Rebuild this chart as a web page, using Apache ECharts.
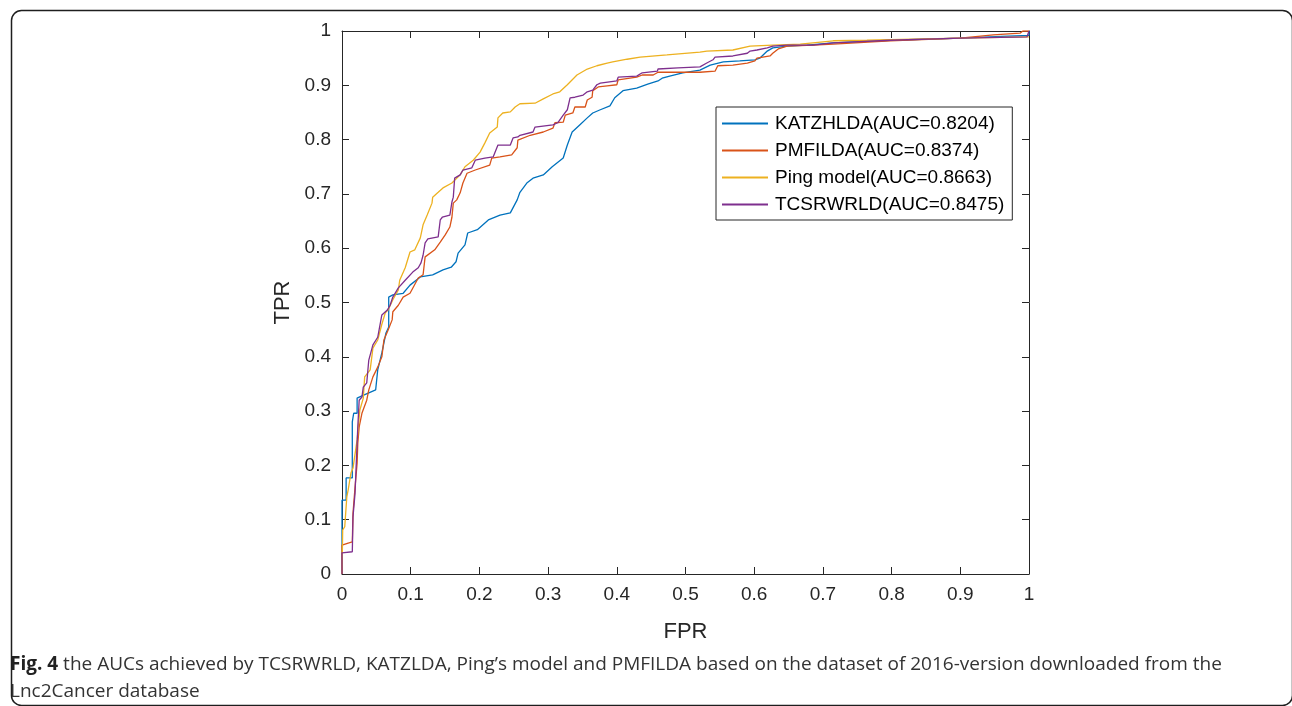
<!DOCTYPE html>
<html>
<head>
<meta charset="utf-8">
<script src="https://cdn.jsdelivr.net/npm/echarts@6/dist/echarts.min.js"></script>
<style>
html,body{margin:0;padding:0;background:#fff;}
#chart{width:1292px;height:706px;}
</style>
</head>
<body>
<div id="chart"></div>
<script>
// ---- Data ----
const seriesNames = ['KATZHLDA(AUC=0.8204)', 'PMFILDA(AUC=0.8374)', 'Ping model(AUC=0.8663)', 'TCSRWRLD(AUC=0.8475)'];
const xTicks = [0, 0.1, 0.2, 0.3, 0.4, 0.5, 0.6, 0.7, 0.8, 0.9, 1];
const yTicks = [0, 0.1, 0.2, 0.3, 0.4, 0.5, 0.6, 0.7, 0.8, 0.9, 1];

const katzFpr = [0,0,0.006,0.006,0.015,0.015,0.017,0.017,0.022,0.022,0.029,0.049,0.052,0.058,0.064,0.068,0.068,0.074,0.089,0.099,0.114,0.132,0.147,0.159,0.166,0.169,0.179,0.183,0.197,0.213,0.230,0.245,0.255,0.259,0.269,0.278,0.293,0.306,0.322,0.328,0.335,0.346,0.357,0.365,0.376,0.390,0.397,0.409,0.429,0.445,0.460,0.466,0.477,0.496,0.521,0.536,0.555,0.579,0.601,0.608,0.619,0.627,0.648,0.677,0.715,0.798,0.900,0.960,1.0,1.0];
const katzTpr = [0,0.136,0.136,0.177,0.177,0.280,0.280,0.296,0.296,0.324,0.328,0.339,0.376,0.407,0.444,0.455,0.510,0.514,0.517,0.532,0.547,0.551,0.560,0.565,0.575,0.591,0.606,0.628,0.634,0.652,0.661,0.665,0.689,0.703,0.720,0.729,0.735,0.750,0.766,0.790,0.814,0.827,0.840,0.849,0.855,0.862,0.877,0.890,0.895,0.902,0.908,0.913,0.917,0.923,0.928,0.937,0.943,0.945,0.947,0.950,0.963,0.969,0.972,0.974,0.978,0.983,0.987,0.990,0.992,1.0];

const pmfFpr = [0,0,0.009,0.015,0.016,0.019,0.022,0.023,0.025,0.029,0.036,0.039,0.045,0.052,0.058,0.061,0.067,0.073,0.074,0.082,0.089,0.099,0.111,0.118,0.121,0.135,0.143,0.150,0.157,0.160,0.162,0.167,0.172,0.176,0.182,0.194,0.215,0.218,0.230,0.247,0.255,0.256,0.274,0.293,0.307,0.310,0.322,0.325,0.336,0.339,0.354,0.357,0.364,0.365,0.373,0.386,0.400,0.402,0.429,0.437,0.453,0.460,0.521,0.543,0.547,0.569,0.590,0.601,0.604,0.623,0.627,0.635,0.648,0.686,0.715,0.798,0.900,0.948,0.987,0.991,1.0];
const pmfTpr = [0,0.053,0.057,0.059,0.112,0.160,0.204,0.241,0.271,0.296,0.320,0.339,0.363,0.381,0.400,0.431,0.449,0.468,0.483,0.495,0.510,0.517,0.545,0.551,0.584,0.597,0.611,0.624,0.639,0.657,0.683,0.689,0.702,0.720,0.738,0.744,0.753,0.766,0.768,0.772,0.785,0.799,0.808,0.814,0.821,0.831,0.832,0.845,0.849,0.860,0.860,0.873,0.878,0.890,0.897,0.899,0.901,0.910,0.915,0.919,0.919,0.924,0.924,0.926,0.936,0.937,0.941,0.945,0.950,0.954,0.959,0.967,0.972,0.974,0.976,0.982,0.987,0.993,0.996,1.0,1.0];

const pingFpr = [0,0.001,0.004,0.007,0.009,0.013,0.016,0.022,0.023,0.026,0.031,0.033,0.041,0.045,0.052,0.058,0.063,0.067,0.074,0.082,0.084,0.092,0.099,0.106,0.114,0.118,0.124,0.131,0.132,0.140,0.147,0.160,0.172,0.179,0.191,0.201,0.208,0.215,0.226,0.227,0.234,0.245,0.252,0.259,0.281,0.293,0.307,0.317,0.328,0.342,0.357,0.371,0.386,0.394,0.415,0.434,0.473,0.521,0.531,0.569,0.594,0.627,0.667,0.715,0.764,0.900,1.0];
const pingTpr = [0,0.081,0.087,0.142,0.155,0.186,0.195,0.247,0.260,0.302,0.324,0.363,0.376,0.416,0.431,0.460,0.481,0.486,0.505,0.523,0.541,0.564,0.593,0.597,0.619,0.643,0.661,0.683,0.694,0.703,0.711,0.720,0.735,0.750,0.762,0.777,0.794,0.812,0.823,0.840,0.849,0.851,0.860,0.866,0.867,0.875,0.884,0.888,0.901,0.919,0.930,0.936,0.941,0.943,0.948,0.952,0.956,0.961,0.963,0.965,0.972,0.974,0.976,0.982,0.983,0.987,0.989];

const tcsFpr = [0,0,0.015,0.016,0.019,0.022,0.023,0.025,0.029,0.031,0.036,0.039,0.045,0.052,0.058,0.066,0.070,0.074,0.082,0.092,0.103,0.111,0.115,0.118,0.121,0.125,0.140,0.143,0.146,0.157,0.160,0.162,0.164,0.172,0.176,0.189,0.194,0.208,0.220,0.227,0.245,0.249,0.256,0.259,0.278,0.281,0.307,0.314,0.322,0.328,0.332,0.339,0.351,0.357,0.365,0.371,0.376,0.400,0.402,0.429,0.437,0.459,0.460,0.489,0.521,0.531,0.540,0.543,0.569,0.590,0.594,0.604,0.619,0.627,0.648,0.686,0.715,0.798,0.900,0.997,1.0];
const tcsTpr = [0,0.039,0.041,0.105,0.149,0.241,0.271,0.320,0.326,0.344,0.352,0.394,0.422,0.436,0.477,0.486,0.495,0.510,0.527,0.541,0.556,0.564,0.573,0.587,0.610,0.617,0.621,0.652,0.657,0.661,0.685,0.694,0.729,0.735,0.744,0.748,0.762,0.766,0.768,0.790,0.790,0.803,0.805,0.808,0.814,0.823,0.827,0.831,0.845,0.855,0.877,0.878,0.882,0.888,0.891,0.901,0.904,0.908,0.915,0.917,0.923,0.926,0.930,0.932,0.934,0.941,0.947,0.952,0.954,0.959,0.963,0.965,0.969,0.972,0.974,0.974,0.978,0.983,0.987,0.989,1.0];

const colors = ['#0072BD', '#D95319', '#EDB120', '#7E2F8E'];

function pairs(xs, ys) { return xs.map((x, i) => [x, ys[i]]); }
const allData = [pairs(katzFpr, katzTpr), pairs(pmfFpr, pmfTpr), pairs(pingFpr, pingTpr), pairs(tcsFpr, tcsTpr)];

const FONT = '"Liberation Sans", Arial, Helvetica, sans-serif';
const AX = '#262626';

const chart = echarts.init(document.getElementById('chart'), null, {renderer: 'canvas'});

function baseAxis(extra) {
  return Object.assign({
    type: 'value', min: 0, max: 1, interval: 0.1,
    axisLine: {show: true, onZero: false, lineStyle: {color: AX, width: 1}},
    axisTick: {show: true, inside: true, length: 7, lineStyle: {color: AX, width: 1}},
    splitLine: {show: false},
  }, extra);
}

const option = {
  animation: false,
  backgroundColor: '#ffffff',
  grid: {left: 342, top: 31, width: 687, height: 543, containLabel: false},
  xAxis: [
    baseAxis({
      position: 'bottom',
      name: 'FPR', nameLocation: 'middle', nameGap: 47,
      nameTextStyle: {fontFamily: FONT, fontSize: 22, color: AX},
      axisLabel: {show: true, margin: 11, fontFamily: FONT, fontSize: 19, color: AX,
        formatter: v => { const t = xTicks.find(k => Math.abs(k - v) < 1e-9); return t === undefined ? '' : String(t); }}
    }),
    baseAxis({position: 'top', axisLabel: {show: false}})
  ],
  yAxis: [
    baseAxis({
      position: 'left',
      name: 'TPR', nameLocation: 'middle', nameGap: 45,
      nameTextStyle: {fontFamily: FONT, fontSize: 22, color: AX},
      axisLabel: {show: true, margin: 11, fontFamily: FONT, fontSize: 19, color: AX,
        formatter: v => { const t = yTicks.find(k => Math.abs(k - v) < 1e-9); return t === undefined ? '' : String(t); }}
    }),
    baseAxis({position: 'right', axisLabel: {show: false}})
  ],
  legend: {
    orient: 'vertical',
    left: 716, top: 107,
    padding: [7, 8, 6, 6],
    itemGap: 8,
    itemWidth: 46, itemHeight: 2,
    icon: 'rect',
    backgroundColor: '#ffffff',
    borderColor: AX, borderWidth: 1,
    textStyle: {fontFamily: FONT, fontSize: 19, color: '#000', padding: [0, 0, 0, 2]},
    data: seriesNames
  },
  series: seriesNames.map((n, i) => ({
    name: n, type: 'line', xAxisIndex: 0, yAxisIndex: 0,
    data: allData[i], showSymbol: false, symbol: 'none',
    color: colors[i],
    lineStyle: {width: 1.3, color: colors[i]},
    z: 2 + i
  })),
  graphic: [
    {type: 'rect', left: 9, top: 8, shape: {width: 1281, height: 695, r: 10}, silent: true,
     style: {fill: 'none', stroke: '#1e1e1e', lineWidth: 1.5}},
    {type: 'text', left: 10, top: 651, silent: true,
     style: {
       text: '{b|Fig. 4} the AUCs achieved by TCSRWRLD, KATZLDA, Ping\u2019s model and PMFILDA based on the dataset of 2016-version downloaded from the\nLnc2Cancer database',
       fontFamily: '"Open Sans", "Noto Sans", sans-serif', fontSize: 19, fill: '#333',
       lineHeight: 27,
       rich: {b: {fontWeight: 'bold', fontFamily: '"Open Sans", "Noto Sans", sans-serif', fontSize: 19, fill: '#222', lineHeight: 27}}
     }}
  ]
};
chart.setOption(option);
</script>
</body>
</html>
